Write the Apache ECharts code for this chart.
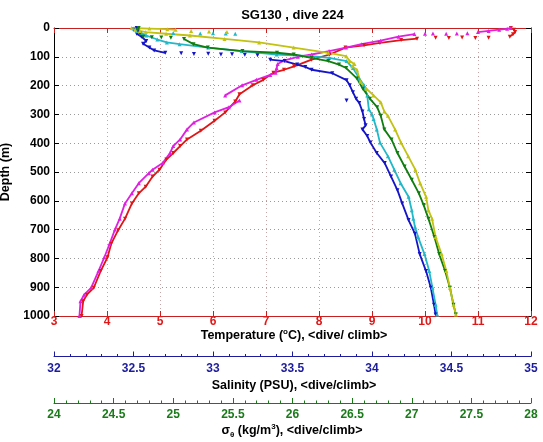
<!DOCTYPE html>
<html><head><meta charset="utf-8">
<script src="https://cdn.jsdelivr.net/npm/echarts@6/dist/echarts.min.js"></script>
<style>html,body{margin:0;padding:0;background:#fff}#c{width:543px;height:442px}</style>
</head><body><div id="c"></div>
<script>
const FONT = '"Liberation Sans", Arial, Helvetica, sans-serif';
const chartTitle = 'SG130 , dive 224';
const depthLabel = 'Depth (m)';

// [temperature degC, depth m]; null = gap between separate samples
const tempDive = [[11.62,0],[11.68,6],[11.7,14],[11.66,22],[11.6,30],null,
  [11.2,34],null,[10.95,35],null,[10.7,33],null,[10.45,35],null,[10.2,34],null,
  [9.85,37],[9.55,42],[9.15,52],[8.85,60],[8.5,68],[8.2,92],[7.86,110],[7.53,133],[7.34,145],[7.14,155],[6.95,180],[6.75,199],[6.5,230],[6.42,255],[6.23,293],[6.03,322],[5.77,357],[5.51,387],[5.38,410],[5.25,434],[5.12,457],[4.99,492],[4.86,516],[4.73,551],[4.6,574],[4.47,609],[4.34,662],[4.21,702],[4.08,749],[4.01,796],[3.88,844],[3.75,902],[3.62,926],[3.55,949],[3.52,1000]];
const tempClimb = [[11.62,0],[11.55,3],[11.4,6],[11.2,10],[11.0,14],null,
  [10.8,18],null,[10.6,19],null,[10.4,20],null,[10.15,19],null,[10.0,20],null,
  [9.8,21],[9.5,30],[9.16,44],[8.8,56],[8.51,68],[8.19,80],[7.86,92],[7.6,100],[7.35,112],[7.22,125],[7.2,140],[7.18,155],[7.08,163],[6.82,180],[6.55,199],[6.23,234],null,
  [6.5,252],[6.3,275],[6.03,293],[5.64,328],[5.51,352],[5.38,387],[5.25,410],[5.19,434],[5.05,469],[4.86,492],[4.79,504],[4.6,539],[4.47,574],[4.34,609],[4.24,662],[4.15,700],[4.05,749],[3.95,796],[3.84,844],[3.7,902],[3.57,926],[3.5,949],[3.48,1000]];

// [salinity PSU, depth m]
const salDive = [[32.52,0],[32.5,6],[32.53,12],[32.52,20],[32.55,30],[32.58,45],[32.56,55],[32.6,68],[32.63,78],[32.7,86],null,
  [32.8,88],null,[32.88,90],null,[32.97,89],null,[33.05,92],null,[33.12,91],null,[33.2,93],null,[33.28,95],null,
  [33.36,110],[33.45,115],[33.53,127],[33.58,135],[33.62,145],[33.75,157],[33.84,181],[33.86,199],[33.88,223],[33.9,246],[33.92,260],[33.94,290],[33.95,316],[33.96,338],[33.94,352],[33.97,375],[33.99,398],[34.03,434],[34.08,469],[34.12,516],[34.16,563],[34.19,609],[34.23,667],[34.27,714],[34.3,785],[34.34,844],[34.37,902],[34.39,961],[34.4,995],null,
  [33.84,252]];
const salClimb = [[32.5,2],[32.52,10],[32.55,18],[32.58,26],[32.65,40],[32.71,50],[32.79,56],[32.97,68],[33.18,80],[33.4,92],[33.62,98],[33.73,104],[33.84,115],[33.88,139],[33.92,175],[33.95,199],[33.97,234],[33.98,282],[34.0,300],[34.01,316],[34.03,352],[34.05,398],[34.1,445],[34.14,492],[34.18,539],[34.23,586],[34.25,633],[34.26,662],[34.27,690],[34.29,726],[34.33,785],[34.36,844],[34.38,902],[34.4,961],[34.41,995],null,
  [32.75,17],null,[32.92,19],null,[33.0,18],null,[33.08,19],null,[33.14,20]];

// [sigma-theta kg/m3, depth m]
const sigDive = [[24.71,0],[24.7,8],[24.72,20],[24.75,30],null,[24.82,32],null,[24.9,33],null,[24.98,34],null,
  [25.09,38],[25.17,56],[25.29,68],[25.58,80],[25.87,86],[26.01,92],[26.16,104],[26.3,115],[26.39,127],[26.45,139],[26.54,175],[26.59,211],[26.65,246],[26.71,275],[26.74,305],[26.77,352],[26.83,387],[26.88,434],[26.94,481],[27.0,527],[27.06,574],[27.1,615],[27.14,662],[27.19,726],[27.23,785],[27.28,844],[27.32,902],[27.35,961],[27.37,995]];
const sigClimb = [[24.65,0],[24.8,2],[24.95,4],[25.02,6],null,[25.15,10],null,[25.3,12],null,[25.45,14],null,
  [24.68,6],[24.72,10],[24.77,14],[24.94,20],[25.14,26],[25.43,38],[25.72,50],[26.01,68],[26.3,86],[26.45,98],[26.48,115],[26.52,125],[26.5,133],[26.54,145],[26.57,187],[26.62,211],[26.68,234],[26.74,258],[26.77,290],[26.8,305],[26.86,352],[26.91,398],[26.97,445],[27.03,492],[27.07,539],[27.12,586],[27.14,633],[27.17,662],[27.2,726],[27.25,785],[27.29,844],[27.32,902],[27.35,961],[27.37,995]];

const C = {
  red:'#e01515', magenta:'#e020e0', blue:'#1414c8', cyan:'#22b8c8', green:'#0f7d0f', yellow:'#c2c212',
  tAxis:'#c82020', tLab:'#e01818', sAxis:'#1c1c9c', gAxis:'#1a7a1a'
};
const prep = a => a.map(p => p === null ? ['-','-'] : p);
const lab = {fontFamily:FONT, fontWeight:'bold', fontSize:12};

function mk(name, data, xi, color, dive){
  return {name, type:'line', xAxisIndex:xi, yAxisIndex:0, data:prep(data),
    connectNulls:false, showSymbol:true, symbol:'triangle', symbolSize:4,
    symbolRotate: dive ? 180 : 0,
    lineStyle:{color, width:1.8}, itemStyle:{color}, emphasis:{disabled:true}, animation:false};
}
function bottomAxis(min,max,interval,offset,col,labCol,minor,margin){
  return {type:'value', min, max, interval, position:'bottom', offset,
    axisLine:{show:true,onZero:false,lineStyle:{color:col,width:1}},
    axisTick:{show:true,inside:true,length:5,lineStyle:{color:col}},
    minorTick:{show:minor,splitNumber:5,length:2.5,lineStyle:{color:col}},
    axisLabel:{...lab,color:labCol,margin,formatter:v=>String(v)},
    splitLine:{show:false}};
}
const xT = bottomAxis(3,12,1,0,C.tAxis,C.tLab,false,0);
xT.splitLine = {show:true, showMinLine:false, showMaxLine:false, lineStyle:{color:'#c4a4a4', type:[1,3], width:1}};
const xS = bottomAxis(32,35,0.5,40.5,C.sAxis,C.sAxis,true,6);
const xG = bottomAxis(24,28,0.5,87,C.gAxis,C.gAxis,true,6);
const xTop = {type:'value', min:3, max:12, interval:1, position:'top',
  axisLine:{show:true,onZero:false,lineStyle:{color:C.tAxis}},
  axisTick:{show:true,inside:true,length:5,lineStyle:{color:C.tAxis}},
  axisLabel:{show:false}, splitLine:{show:false}};

const rb = {fontFamily:FONT, fontWeight:'bold', fontSize:12.5, color:'#000', lineHeight:16};
const option = {
  animation:false,
  backgroundColor:'#fff',
  grid:{left:54, right:12, top:28, bottom:126, containLabel:false, outerBoundsMode:'none'},
  xAxis:[xT, xS, xG, xTop],
  yAxis:[
    {type:'value', inverse:true, min:0, max:1000, interval:100, position:'left',
     axisLine:{show:true,onZero:false,lineStyle:{color:'#000'}},
     axisTick:{show:true,inside:true,length:5,lineStyle:{color:'#000'}},
     axisLabel:{...lab,color:'#000',margin:4,formatter:v=>String(v)},
     splitLine:{show:true, showMinLine:false, showMaxLine:false, lineStyle:{color:'#9a9a9a', type:[1,3], width:1}},
     name:depthLabel, nameLocation:'middle', nameGap:42, nameRotate:90,
     nameTextStyle:{fontFamily:FONT, fontWeight:'bold', fontSize:12.5, color:'#000'}},
    {type:'value', inverse:true, min:0, max:1000, interval:100, position:'right',
     axisLine:{show:true,onZero:false,lineStyle:{color:'#000'}},
     axisTick:{show:true,inside:true,length:5,lineStyle:{color:'#000'}},
     axisLabel:{show:false}, splitLine:{show:false}}
  ],
  graphic:[
    {type:'text', x:292.5, y:15, style:{text:chartTitle, font:'bold 13px '+FONT, fill:'#000', align:'center', verticalAlign:'middle'}},
    {type:'text', x:294, y:336, style:{
      text:'{b|Temperature (}{sup|o}{b|C), <}{r|dive}{b|/ }{m|climb}{b|>}',
      align:'center', verticalAlign:'middle',
      rich:{b:rb, sup:{...rb,fontSize:8,lineHeight:8,verticalAlign:'top'}, r:{...rb,color:C.red}, m:{...rb,color:C.magenta}}}},
    {type:'text', x:294, y:386, style:{
      text:'{b|Salinity (PSU), <}{d|dive}{b|/}{c|climb}{b|>}',
      align:'center', verticalAlign:'middle',
      rich:{b:rb, d:{...rb,color:C.blue}, c:{...rb,color:C.cyan}}}},
    {type:'text', x:292, y:431, style:{
      text:'{b|σ}{sub|θ}{b| (kg/m}{sup|3}{b|), <}{d|dive}{b|/}{c|climb}{b|>}',
      align:'center', verticalAlign:'middle',
      rich:{b:rb, sub:{...rb,fontSize:8,lineHeight:8,verticalAlign:'bottom'}, sup:{...rb,fontSize:8,lineHeight:8,verticalAlign:'top'}, d:{...rb,color:C.green}, c:{...rb,color:C.yellow}}}}
  ],
  series:[
    mk('T dive', tempDive, 0, C.red, true),
    mk('T climb', tempClimb, 0, C.magenta, false),
    mk('S dive', salDive, 1, C.blue, true),
    mk('S climb', salClimb, 1, C.cyan, false),
    mk('sig dive', sigDive, 2, C.green, true),
    mk('sig climb', sigClimb, 2, C.yellow, false)
  ]
};
const chart = echarts.init(document.getElementById('c'), null, {renderer:'canvas'});
chart.setOption(option);
</script></body></html>
